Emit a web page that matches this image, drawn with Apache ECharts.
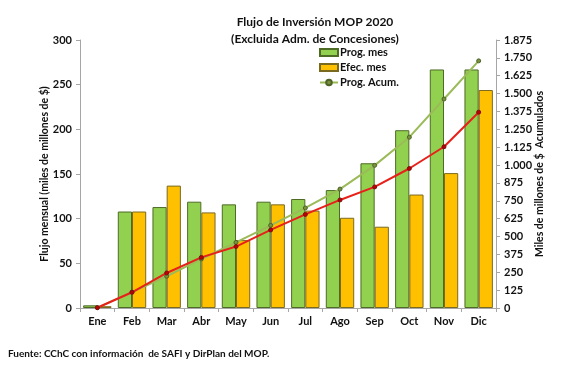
<!DOCTYPE html>
<html><head><meta charset="utf-8">
<script src="https://cdn.jsdelivr.net/npm/echarts@6/dist/echarts.min.js"></script>
<style>html,body{margin:0;padding:0;background:#fff}#c{width:568px;height:371px}</style>
</head><body><div id="c"></div>
<script>
const categories = ['Ene','Feb','Mar','Abr','May','Jun','Jul','Ago','Sep','Oct','Nov','Dic'];
const progMes = [3,108,113,119,116,119,122,132,162,199,267,267];
const efecMes = [2,108,137,107,76,116,109,101,91,127,151,244];
const progAcum = [3,111,222,343,459,578,700,832,998,1195,1462,1729];
const efecAcum = [2,110,245,354,430,546,655,756,847,976,1128,1370];
const leftTicks = {min:0,max:300,interval:50};
const rightTicks = {min:0,max:1875,interval:125};

const font = 'Lato, "Open Sans", sans-serif';
const chart = echarts.init(document.getElementById('c'));
const fmtThousands = v => String(v).replace(/\B(?=(\d{3})+(?!\d))/g,'.');
chart.setOption({
  animation:false,
  textStyle:{fontFamily:font},
  title:{text:'Flujo de Inversión MOP 2020\n(Excluida Adm. de Concesiones)',left:310,top:9,textAlign:'center',
    textStyle:{fontSize:12,fontWeight:'bold',color:'#111',lineHeight:17,fontFamily:font}},
  graphic:[{type:'text',left:8,top:349,style:{text:'Fuente: CChC con información  de SAFI y DirPlan del MOP.',font:'bold 10px '+font,fill:'#111'}}],
  legend:{orient:'vertical',left:314,top:42,itemGap:4,itemWidth:18,itemHeight:7,
    data:[{name:'Prog. mes',icon:'rect'},{name:'Efec. mes',icon:'rect'},{name:'Prog. Acum.'}],
    textStyle:{fontSize:11,fontWeight:'bold',color:'#111',padding:[0,0,0,-3]}},
  grid:{left:80,right:72,top:40,bottom:63},
  xAxis:{type:'category',data:categories,
    axisLine:{lineStyle:{color:'#a6a6a6'}},
    axisTick:{show:true,alignWithLabel:false,length:4,lineStyle:{color:'#a6a6a6'}},
    axisLabel:{color:'#111',fontSize:11,fontWeight:'bold',margin:8}},
  yAxis:[
    {type:'value',min:leftTicks.min,max:leftTicks.max,interval:leftTicks.interval,
     name:'Flujo mensual (miles de millones de $)',nameLocation:'middle',nameGap:30,nameRotate:90,nameMoveOverlap:false,
     nameTextStyle:{fontSize:10.5,fontWeight:'bold',color:'#111'},
     axisLine:{show:true,lineStyle:{color:'#a6a6a6'}},axisTick:{show:true,length:4,lineStyle:{color:'#a6a6a6'}},
     splitLine:{show:false},axisLabel:{color:'#111',fontSize:11,fontWeight:'bold',margin:8}},
    {type:'value',min:rightTicks.min,max:rightTicks.max,interval:rightTicks.interval,position:'right',
     name:'Miles de millones de $  Acumulados',nameLocation:'middle',nameGap:38,nameRotate:90,nameMoveOverlap:false,
     nameTextStyle:{fontSize:10.5,fontWeight:'bold',color:'#111'},
     axisLine:{show:true,lineStyle:{color:'#a6a6a6'}},axisTick:{show:true,length:4,lineStyle:{color:'#a6a6a6'}},
     splitLine:{show:false},axisLabel:{color:'#111',fontSize:11,fontWeight:'bold',margin:8,formatter:fmtThousands}}
  ],
  series:[
    {name:'Prog. mes',type:'bar',data:progMes,barGap:'0%',barCategoryGap:'18%',
     itemStyle:{color:'#92D050',borderColor:'#4e6b26',borderWidth:1}},
    {name:'Efec. mes',type:'bar',data:efecMes,
     itemStyle:{color:'#FFC000',borderColor:'#7a6a20',borderWidth:1}},
    {name:'Prog. Acum.',type:'line',yAxisIndex:1,data:progAcum,symbol:'circle',symbolSize:4,
     lineStyle:{color:'#9BBB59',width:2},itemStyle:{color:'#77933C',borderColor:'#4F6228',borderWidth:1}},
    {name:'Efec. Acum.',type:'line',yAxisIndex:1,data:efecAcum,symbol:'circle',symbolSize:4,
     lineStyle:{color:'#E8201A',width:2},itemStyle:{color:'#C00000',borderColor:'#7a1010',borderWidth:1}}
  ]
});
</script></body></html>
